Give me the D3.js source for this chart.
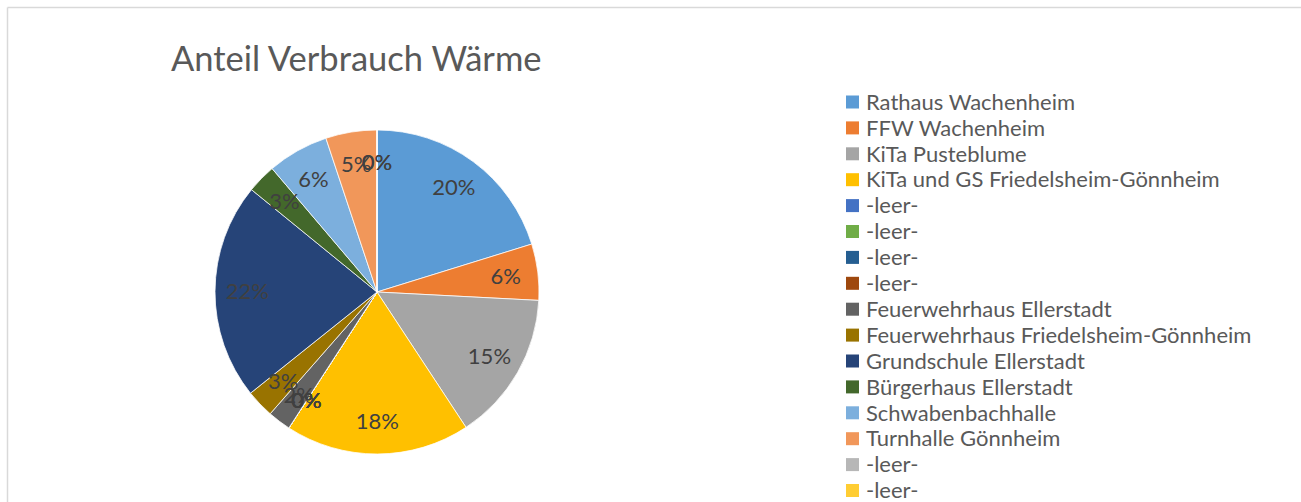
<!DOCTYPE html>
<html>
<head>
<meta charset="utf-8">
<script src="https://cdn.jsdelivr.net/npm/d3@7"></script>
<style>
  body { margin: 0; background: #fff; }
  svg text { font-family: "Lato", "Open Sans", sans-serif; }
</style>
</head>
<body>
<div id="chart"></div>
<script>
// Anteil Verbrauch Wärme - share per building (percent)
var names = ["Rathaus Wachenheim", "FFW Wachenheim", "KiTa Pusteblume",
    "KiTa und GS Friedelsheim-Gönnheim", "-leer-", "-leer-", "-leer-", "-leer-",
    "Feuerwehrhaus Ellerstadt", "Feuerwehrhaus Friedelsheim-Gönnheim",
    "Grundschule Ellerstadt", "Bürgerhaus Ellerstadt", "Schwabenbachhalle",
    "Turnhalle Gönnheim", "-leer-", "-leer-"];
var values = [20.2, 5.6, 14.9, 18.4, 0, 0, 0, 0, 2.3, 2.8, 21.6, 2.9, 6.1, 5.1, 0, 0];
var colors = ["#5B9BD5", "#ED7D31", "#A5A5A5", "#FFC000", "#4472C4", "#70AD47",
    "#255E91", "#9E480E", "#636363", "#997300", "#264478", "#43682B",
    "#7CAFDD", "#F1975A", "#B7B7B7", "#FFCD33"];

var W = 1301, H = 502;
var cx = 377, cy = 292, radius = 162;

var svg = d3.select("#chart").append("svg")
    .attr("width", W)
    .attr("height", H);

// chart frame (only top and left edges are visible)
svg.append("line")
    .attr("x1", 7.5).attr("y1", 7.5).attr("x2", W).attr("y2", 7.5)
    .attr("stroke", "#d9d9d9").attr("stroke-width", 1.5);
svg.append("line")
    .attr("x1", 7.5).attr("y1", 7.5).attr("x2", 7.5).attr("y2", H)
    .attr("stroke", "#d9d9d9").attr("stroke-width", 1.5);

//Title
svg.append("text")
    .attr("x", 171)
    .attr("y", 71)
    .style("font-size", "34.5px")
    .style("fill", "#595959")
    .text("Anteil Verbrauch Wärme");

var data = names.map(function(n, i) {
    return {name: n, value: values[i], color: colors[i]};
});

var pie = d3.pie()
    .sort(null)
    .value(function(d) { return d.value; });

var arc = d3.arc().innerRadius(0).outerRadius(radius);
var labelArc = d3.arc().innerRadius(radius * 0.8).outerRadius(radius * 0.8);

var g = svg.append("g")
    .attr("transform", "translate(" + cx + "," + cy + ")");

var arcs = pie(data);

g.selectAll("path")
    .data(arcs)
    .enter()
    .append("path")
    .attr("d", arc)
    .attr("fill", function(d) { return d.data.color; })
    .attr("stroke", "#ffffff")
    .attr("stroke-width", 0.75);

// data labels
var pct = d3.format(".0%");
var total = d3.sum(values);
g.selectAll("text.lbl")
    .data(arcs)
    .enter()
    .append("text")
    .attr("class", "lbl")
    .attr("transform", function(d) { return "translate(" + labelArc.centroid(d) + ")"; })
    .attr("text-anchor", "middle")
    .attr("dy", "0.35em")
    .style("font-size", "22px")
    .style("fill", "#404040")
    .text(function(d) { return pct(d.data.value / total); });

// legend
var legend = svg.append("g")
    .attr("transform", "translate(846,102)");

var item = legend.selectAll("g")
    .data(data)
    .enter()
    .append("g")
    .attr("transform", function(d, i) { return "translate(0," + (i * 25.9) + ")"; });

item.append("rect")
    .attr("x", 0)
    .attr("y", -6.5)
    .attr("width", 13)
    .attr("height", 13)
    .attr("fill", function(d) { return d.color; });

item.append("text")
    .attr("x", 20)
    .attr("dy", "0.35em")
    .style("font-size", "22px")
    .style("fill", "#595959")
    .text(function(d) { return d.name; });
</script>
</body>
</html>
